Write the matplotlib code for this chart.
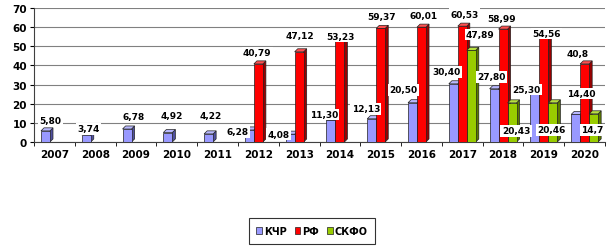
import numpy as np
import matplotlib
matplotlib.use("Agg")
import matplotlib.pyplot as plt
from matplotlib.patches import Polygon

years = ["2007", "2008", "2009", "2010", "2011", "2012", "2013",
         "2014", "2015", "2016", "2017", "2018", "2019", "2020"]
kchr = [5.80, 3.74, 6.78, 4.92, 4.22, 6.28, 4.08, 11.30, 12.13, 20.50, 30.40, 27.80, 25.30, 14.40]
kchr_text = ["5,80", "3,74", "6,78", "4,92", "4,22", "6,28", "4,08",
             "11,30", "12,13", "20,50", "30,40", "27,80", "25,30", "14,40"]
rf_years = [5, 6, 7, 8, 9, 10, 11, 12, 13]
rf = [40.79, 47.12, 53.23, 59.37, 60.01, 60.53, 58.99, 54.56, 40.8]
rf_text = ["40,79", "47,12", "53,23", "59,37", "60,01", "60,53", "58,99", "54,56", "40,8"]
skfo_years = [10, 11, 12, 13]
skfo = [47.89, 20.43, 20.46, 14.7]
skfo_text = ["47,89", "20,43", "20,46", "14,7"]

# label offsets in pixels (dx, dy) from bar top centre
kchr_off = [(5, 10), (2, 6), (7, 13), (4, 17), (2, 18), (-12, -2), (-12, 0),
            (-7, 6), (-6, 10), (-9, 13), (-7, 12), (-3, 12), (-8, 4), (6, 21)]
rf_off = [(-1, 11), (1, 16), (1, 4), (1, 12), (2, 12), (2, 12), (-1, 11), (3, 4), (-7, 10)]
skfo_off = [(9, 16), (4, -28), (-1, -27), (-1, -16)]

W = 0.22
DX, DY = 0.075, 1.6

fig = plt.figure(figsize=(6.12, 2.53), dpi=100)
ax = fig.add_axes([0.0556, 0.4348, 0.933, 0.5294])


def bars3d(xs, vals, face, side, top):
    for x, v in zip(xs, vals):
        x0, x1 = x - W / 2, x + W / 2
        ax.add_patch(Polygon([(x1, 0), (x1 + DX, DY), (x1 + DX, v + DY), (x1, v)],
                             closed=True, facecolor=side, edgecolor="#202020", lw=0.5, zorder=3))
        ax.add_patch(Polygon([(x0, v), (x0 + DX, v + DY), (x1 + DX, v + DY), (x1, v)],
                             closed=True, facecolor=top, edgecolor="#202020", lw=0.5, zorder=3))
    return ax.bar(xs, vals, width=W, color=face, edgecolor="#202020", lw=0.5, zorder=3)


idx = np.arange(len(years))
b1 = bars3d(idx - W, kchr, "#9999FF", "#5050A0", "#B8B8FF")
b2 = bars3d(np.array(rf_years, dtype=float), rf, "#FF0000", "#990000", "#FF5050")
b3 = bars3d(np.array(skfo_years) + W, skfo, "#99CC00", "#5C7A00", "#B8E040")


def labels(xs, vals, texts, offs):
    for x, v, t, (dx, dy) in zip(xs, vals, texts, offs):
        ax.annotate(t, (x, v), xytext=(dx, dy), textcoords="offset pixels",
                    ha="center", va="center", fontsize=6.5, fontweight="bold",
                    bbox=dict(boxstyle="square,pad=0.15", fc="white", ec="none"),
                    zorder=5)


labels(idx - W, kchr, kchr_text, kchr_off)
labels(rf_years, rf, rf_text, rf_off)
labels(np.array(skfo_years) + W, skfo, skfo_text, skfo_off)

ax.set_xlim(-0.5, len(years) - 0.5)
ax.set_ylim(0, 70)
ax.set_yticks(range(0, 71, 10))
ax.set_xticks(idx)
ax.set_xticklabels(years)
ax.set_xticks(np.arange(-0.5, len(years), 1), minor=True)
ax.tick_params(axis="x", which="major", length=0, pad=5)
ax.tick_params(axis="x", which="minor", length=3, direction="out")
ax.tick_params(axis="y", length=3, pad=2)
for lab in ax.get_xticklabels() + ax.get_yticklabels():
    lab.set_fontsize(7.5)
    lab.set_fontweight("bold")
ax.grid(axis="y", color="#808080", lw=0.8, zorder=0)
ax.spines["top"].set_visible(False)
ax.spines["right"].set_visible(False)
ax.spines["left"].set_color("#404040")
ax.spines["bottom"].set_color("#404040")

leg = fig.legend([b1, b2, b3], ["КЧР", "РФ", "СКФО"], loc="center",
                 bbox_to_anchor=(312 / 612, 1 - 232 / 253), ncol=3,
                 fancybox=False, edgecolor="black", handlelength=0.6, handleheight=0.6,
                 handletextpad=0.2, columnspacing=0.8, borderpad=0.8,
                 prop=dict(size=7, weight="bold"))
leg.get_frame().set_linewidth(0.8)

fig.savefig("out.png", dpi=100)
